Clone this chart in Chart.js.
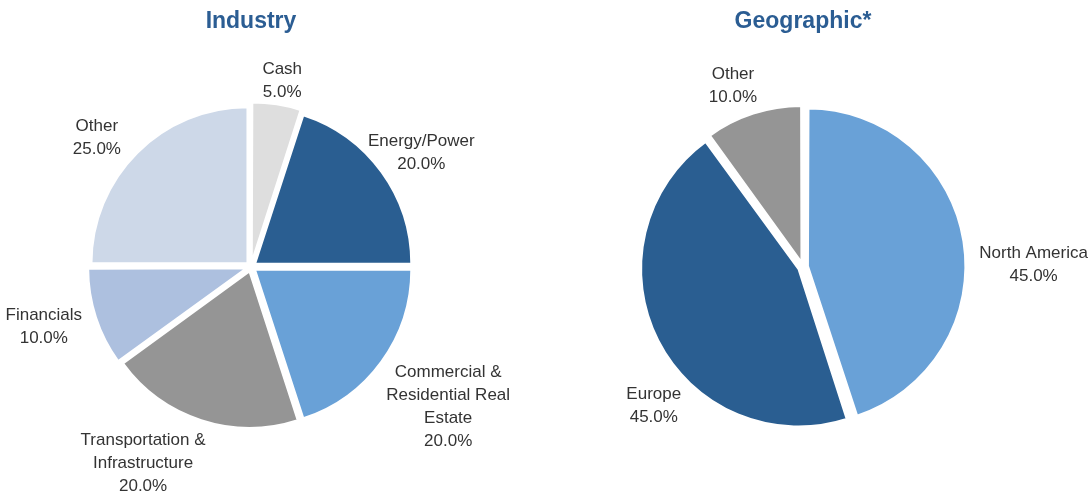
<!DOCTYPE html>
<html lang="en">
<head>
  <meta charset="UTF-8">
  <title>Industry and Geographic breakdown</title>
  <script src="https://cdn.jsdelivr.net/npm/chart.js"></script>
  <style>
    body {
      margin: 0;
      background: #ffffff;
    }
    #wrap {
      display: flex;
      width: 1090px;
      height: 496px;
    }
    canvas {
      display: block;
    }
  </style>
</head>
<body>

<div id="wrap">
  <canvas id="industryChart" width="545" height="496"></canvas>
  <canvas id="geoChart" width="545" height="496"></canvas>
</div>

<script>
  // Industry breakdown (% of portfolio)
  const industryLabels = [
    ['Cash'],
    ['Energy/Power'],
    ['Commercial &', 'Residential Real', 'Estate'],
    ['Transportation &', 'Infrastructure'],
    ['Financials'],
    ['Other']
  ];
  const industryValues = [5, 20, 20, 20, 10, 25];
  const industryColors = ['#dedede', '#2a5e91', '#69a1d7', '#959595', '#adc0df', '#cdd8e8'];

  // Geographic breakdown (% of portfolio)
  const geoLabels = [['North America'], ['Europe'], ['Other']];
  const geoValues = [45, 45, 10];
  const geoColors = ['#69a1d7', '#2a5e91', '#959595'];

  const titleColor = '#2b5d93';
  const textColor = '#333333';

  // draws "label / xx.x%" outside each slice
  const outsideLabels = {
    id: 'outsideLabels',
    afterDatasetsDraw(chart, args, opts) {
      const ctx = chart.ctx;
      const meta = chart.getDatasetMeta(0);
      const names = chart.data.labels;
      const values = chart.data.datasets[0].data;
      ctx.save();
      ctx.font = opts.font;
      ctx.fillStyle = opts.color;
      ctx.textAlign = 'center';
      ctx.textBaseline = 'middle';
      meta.data.forEach((arc, i) => {
        const p = arc.getProps(['x', 'y', 'startAngle', 'endAngle', 'outerRadius'], true);
        const mid = (p.startAngle + p.endAngle) / 2;
        const lines = names[i].concat(values[i].toFixed(1) + '%');
        const w = Math.max(...lines.map(t => ctx.measureText(t).width));
        const h = lines.length * opts.lineHeight;
        const d = p.outerRadius + opts.gap;
        const nudge = (opts.nudge && opts.nudge[i]) || [0, 0];
        const cx = p.x + Math.cos(mid) * (d + w / 2) + nudge[0];
        const cy = p.y + Math.sin(mid) * (d + h / 2) + nudge[1] + opts.shift;
        lines.forEach((t, k) => {
          ctx.fillText(t, cx, cy - h / 2 + opts.lineHeight * (k + 0.5));
        });
      });
      ctx.restore();
    }
  };

  function makePie(id, title, labels, values, colors, radius, rightPad, gap, nudge) {
    return new Chart(document.getElementById(id), {
      type: 'pie',
      data: {
        labels: labels,
        datasets: [{
          data: values,
          backgroundColor: colors,
          borderColor: '#ffffff',
          borderWidth: 2,
          offset: 20
        }]
      },
      options: {
        responsive: false,
        animation: false,
        radius: radius,
        layout: {
          padding: { left: 0, right: rightPad, top: 0, bottom: 0 }
        },
        plugins: {
          legend: { display: false },
          tooltip: { enabled: false },
          title: {
            display: true,
            text: title,
            color: titleColor,
            font: { family: "'Liberation Sans', Arial, sans-serif", size: 23, weight: 'bold', lineHeight: 1.2 },
            padding: { top: 8, bottom: 2 }
          },
          outsideLabels: {
            font: "17px 'Liberation Sans', Arial, sans-serif",
            color: textColor,
            lineHeight: 23,
            gap: gap,
            shift: 1,
            nudge: nudge
          }
        }
      },
      plugins: [outsideLabels]
    });
  }

  makePie('industryChart', 'Industry', industryLabels, industryValues, industryColors, 156, 43, 11,
    [[2, 1], [-8, -3], [12, 14], [-37, 4], [-12, 0], [-19, 4]]);
  makePie('geoChart', 'Geographic*', geoLabels, geoValues, geoColors, 154, 29, 13,
    [[12, 27], [24, 52], [-11, -1]]);
</script>
</body>
</html>
